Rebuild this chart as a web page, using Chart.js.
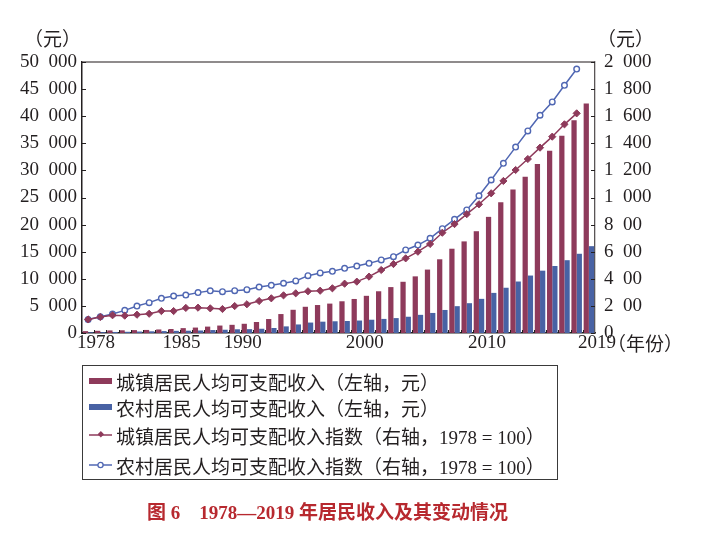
<!DOCTYPE html>
<html>
<head>
<meta charset="utf-8">
<script src="https://cdn.jsdelivr.net/npm/chart.js@4"></script>
<style>
  html, body { margin: 0; padding: 0; background: #fff; }
  #wrap { position: relative; width: 714px; height: 541px; background: #fff; overflow: hidden; }
  #c { position: absolute; left: 0; top: 0; }
  .txt { position: absolute; white-space: nowrap; color: #231f20;
         font-family: "Liberation Serif", "Noto Sans CJK SC", serif; font-size: 19px; line-height: 22px; }
  #legend { position: absolute; left: 82px; top: 365px; width: 474px; height: 113px;
            border: 1.5px solid #3a3a3a; }
  .row { position: absolute; left: 6px; height: 26px; display: flex; align-items: center; }
  .row span { font-family: "Liberation Serif", "Noto Sans CJK SC", serif; font-size: 19px; color: #231f20; white-space: nowrap; margin-left: 4px; }
  .sw { width: 23px; height: 6px; display: inline-block; }
  #title { position: absolute; left: 147px; top: 497px; font-family: "Liberation Serif", "Noto Sans CJK SC", serif;
           font-weight: bold; font-size: 19px; color: #b7292f; white-space: nowrap; }
</style>
</head>
<body>
<div id="wrap">
  <canvas id="c" width="714" height="541"></canvas>
  <div class="txt" style="left:24px;top:29px;">（元）</div>
  <div class="txt" style="left:597px;top:29px;">（元）</div>
  <div class="txt" style="left:607px;top:334px;">（年份）</div>
  <div id="legend">
    <div class="row" style="top:2px;"><i class="sw" style="background:#8e3a5b"></i><span>城镇居民人均可支配收入（左轴，元）</span></div>
    <div class="row" style="top:28px;"><i class="sw" style="background:#4862a4"></i><span>农村居民人均可支配收入（左轴，元）</span></div>
    <div class="row" style="top:56px;"><svg width="23" height="10"><line x1="0" y1="5" x2="23" y2="5" stroke="#8e3a5b" stroke-width="1.5"/><rect x="9" y="2" width="4.5" height="4.5" transform="rotate(45 11.5 5)" fill="#8e3a5b"/></svg><span>城镇居民人均可支配收入指数（右轴，1978 = 100）</span></div>
    <div class="row" style="top:86px;"><svg width="23" height="10"><line x1="0" y1="5" x2="23" y2="5" stroke="#5067b3" stroke-width="1.5"/><circle cx="11.5" cy="5" r="2.6" fill="#fff" stroke="#5067b3" stroke-width="1.3"/></svg><span>农村居民人均可支配收入指数（右轴，1978 = 100）</span></div>
  </div>
  <div id="title">图 6　1978—2019 年居民收入及其变动情况</div>
</div>
<script>
// ---- data ----
const years = [1978,1979,1980,1981,1982,1983,1984,1985,1986,1987,1988,1989,1990,1991,1992,1993,1994,1995,1996,1997,1998,1999,2000,2001,2002,2003,2004,2005,2006,2007,2008,2009,2010,2011,2012,2013,2014,2015,2016,2017,2018,2019];
const urbanIncome = [343,405,478,500,535,565,652,739,900,1002,1180,1374,1510,1701,2027,2577,3496,4283,4839,5160,5425,5854,6280,6860,7700,8470,9450,10450,11700,13600,15550,16901,18779,21427,24127,26467,28844,31195,33616,36396,39251,42359];
const ruralIncome = [134,160,191,223,270,310,355,398,424,463,545,602,686,709,784,922,1221,1578,1926,2090,2162,2210,2300,2450,2600,2750,3000,3350,3700,4250,4950,5500,6300,7400,8350,9500,10600,11500,12363,13432,14617,16021];
const urbanIndex = [100,118,131,128,135,142,162,162,185,187,182,177,199,212,236,256,278,293,308,312,330,364,379,416,465,509,551,600,657,740,804,877,950,1031,1122,1203,1284,1368,1449,1540,1621,null];
const ruralIndex = [100,120,140,167,199,224,256,273,280,298,311,305,312,320,339,352,367,384,423,443,455,477,494,514,539,563,613,649,699,770,839,908,1013,1129,1252,1372,1491,1607,1705,1828,1948,null];
const xTickYears = [1978,1985,1990,2000,2010,2019];
const leftTickLabels = ['0','5\u2002000','10\u2002000','15\u2002000','20\u2002000','25\u2002000','30\u2002000','35\u2002000','40\u2002000','45\u2002000','50\u2002000'];
const rightTickLabels = ['0','2\u200200','4\u200200','6\u200200','8\u200200','1\u2002000','1\u2002200','1\u2002400','1\u2002600','1\u2002800','2\u2002000'];

const RED = '#8e3a5b', BLUE = '#4862a4', BLUE_LINE = '#5067b3', INK = '#231f20';
const tickFont = { family: 'Liberation Serif', size: 19 };

const framePlugin = {
  id: 'frame',
  afterDraw(chart) {
    const { ctx, chartArea: { left, right, top, bottom }, scales } = chart;
    ctx.save();
    ctx.strokeStyle = '#6a6566';
    ctx.lineWidth = 1.3;
    ctx.beginPath(); ctx.moveTo(left, top); ctx.lineTo(right, top); ctx.stroke();
    ctx.strokeStyle = INK;
    ctx.lineWidth = 1;
    ctx.beginPath();
    scales.y.ticks.forEach(t => { const yy = Math.round(scales.y.getPixelForValue(t.value)) + 0.5; ctx.moveTo(left, yy); ctx.lineTo(left + 4, yy); });
    scales.y1.ticks.forEach(t => { const yy = Math.round(scales.y1.getPixelForValue(t.value)) + 0.5; ctx.moveTo(right - 4, yy); ctx.lineTo(right, yy); });
    for (let k = 1; k < years.length; k++) {
      const xx = Math.round((scales.x.getPixelForValue(k - 1) + scales.x.getPixelForValue(k)) / 2) + 0.5;
      ctx.moveTo(xx, bottom); ctx.lineTo(xx, bottom - 3);
    }
    ctx.stroke();
    ctx.restore();
  }
};

new Chart(document.getElementById('c'), {
  data: {
    labels: years,
    datasets: [
      { type: 'line', label: '城镇居民人均可支配收入指数（右轴，1978 = 100）', data: urbanIndex, yAxisID: 'y1', order: 0,
        borderColor: RED, borderWidth: 1.5, pointStyle: 'rectRot', pointRadius: 3.6, backgroundColor: RED,
        pointBackgroundColor: RED, pointBorderColor: RED, pointBorderWidth: 1 },
      { type: 'line', label: '农村居民人均可支配收入指数（右轴，1978 = 100）', data: ruralIndex, yAxisID: 'y1', order: 0,
        borderColor: BLUE_LINE, borderWidth: 1.5, pointStyle: 'circle', pointRadius: 2.8, backgroundColor: '#fff',
        pointBackgroundColor: '#fff', pointBorderColor: BLUE_LINE, pointBorderWidth: 1.4 },
      { type: 'bar', label: '城镇居民人均可支配收入（左轴，元）', data: urbanIncome, yAxisID: 'y', order: 1,
        backgroundColor: RED, categoryPercentage: 0.86, barPercentage: 1.0 },
      { type: 'bar', label: '农村居民人均可支配收入（左轴，元）', data: ruralIncome, yAxisID: 'y', order: 1,
        backgroundColor: BLUE, categoryPercentage: 0.86, barPercentage: 1.0 }
    ]
  },
  options: {
    responsive: false,
    animation: false,
    devicePixelRatio: 1,
    layout: { padding: { top: 62, left: 0, right: 0, bottom: 0 } },
    plugins: { legend: { display: false }, title: { display: false }, tooltip: { enabled: false } },
    scales: {
      x: {
        type: 'category', offset: true, position: 'bottom',
        grid: { display: false, drawTicks: false },
        border: { display: true, color: INK, width: 1.5 },
        ticks: {
          autoSkip: false, maxRotation: 0, minRotation: 0, padding: -1, labelOffset: 8,
          color: INK, font: tickFont,
          callback: function (v, i) { return xTickYears.includes(years[i]) ? String(years[i]) : ''; }
        },
        afterFit: s => { s.height = 208; }
      },
      y: {
        position: 'left', min: 0, max: 50000,
        grid: { display: false, drawTicks: false },
        border: { display: true, color: INK, width: 1.5 },
        ticks: { stepSize: 5000, padding: 5, color: INK, font: tickFont,
                 callback: (v) => leftTickLabels[Math.round(v / 5000)] },
        afterFit: s => { s.width = 82; }
      },
      y1: {
        position: 'right', min: 0, max: 2000,
        grid: { display: false, drawTicks: false },
        border: { display: true, color: '#5a5556', width: 1.3 },
        ticks: { stepSize: 200, padding: 9, color: INK, font: tickFont,
                 callback: (v) => rightTickLabels[Math.round(v / 200)] },
        afterFit: s => { s.width = 119; }
      }
    }
  },
  plugins: [framePlugin]
});
</script>
</body>
</html>
